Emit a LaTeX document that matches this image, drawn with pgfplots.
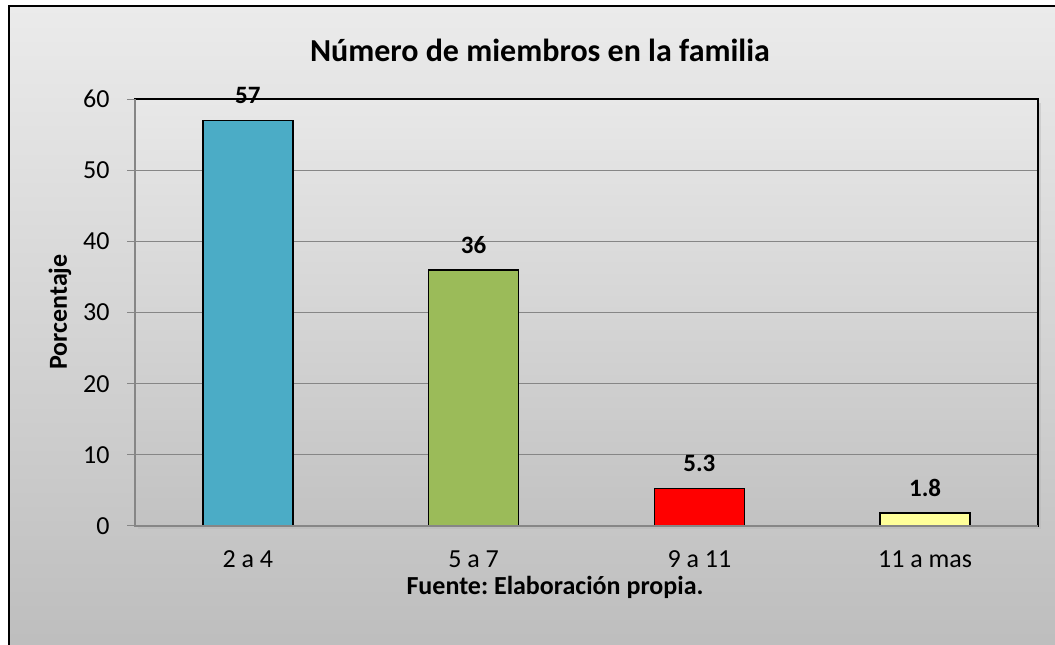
\documentclass[border=0pt]{standalone}
\usepackage{fontspec}
\setmainfont{Carlito}
\usepackage{pgfplots}
\pgfplotsset{compat=1.18}
\frenchspacing
\definecolor{bA}{HTML}{4BACC6}
\definecolor{bB}{HTML}{9BBB59}
\definecolor{bC}{HTML}{FF0000}
\definecolor{bD}{HTML}{FFFF99}
\definecolor{bgtop}{HTML}{EBEBEB}
\definecolor{bgbot}{HTML}{BDBDBD}
\definecolor{pltop}{HTML}{E8E8E8}
\definecolor{plbot}{HTML}{C2C2C2}
\definecolor{gridgray}{HTML}{868686}
\begin{document}
\begin{tikzpicture}[x=1pt,y=1pt]
\useasboundingbox (0,0) rectangle (1055,645);
\shade[top color=bgtop, bottom color=bgbot] (9,-10) rectangle (1075,639);
\draw[black, line width=1.5pt] (9,-10) rectangle (1075,639);
\node[font=\fontsize{32}{38}\selectfont\bfseries] at (540,595) {Número de miembros en la familia};
\node[font=\fontsize{26}{30}\selectfont\bfseries, rotate=90] at (60,333) {Porcentaje};
\node[font=\fontsize{26}{30}\selectfont\bfseries] at (555,58) {Fuente: Elaboración propia.};
\fill[black!30, opacity=0.4] (138,116) rectangle (1041,542);
\begin{axis}[
  at={(135pt,119pt)}, anchor=south west, scale only axis,
  width=903pt, height=427pt,
  xmin=-0.5, xmax=3.5, ymin=0, ymax=60,
  ytick={0,10,...,60}, xtick={0,1,2,3},
  xticklabels={2 a 4, 5 a 7, 9 a 11, 11 a mas},
  ymajorgrids, grid style={color=gridgray, line width=1pt},
  axis background/.style={shade, top color=pltop, bottom color=plbot},
  axis line style={black, line width=1.2pt},
  xtick pos=bottom, ytick pos=left,
  xtick style={draw=none},
  ytick style={draw=gridgray, line width=1pt},
  tick align=outside, major tick length=8pt,
  ticklabel style={font=\fontsize{26}{30}\selectfont},
  yticklabel style={xshift=-14pt},
  xticklabel style={yshift=-13pt},
  /pgf/number format/assume math mode=true,
  ybar, bar width=90pt,
  every axis plot/.append style={bar shift=0pt, draw=black, line width=1.5pt},
  nodes near coords,
  every node near coord/.append style={font=\fontsize{25}{30}\selectfont\bfseries},
  nodes near coords style={anchor=center, yshift=25pt},
  clip=false,
]
\addplot[fill=bA] coordinates {(0,57)};
\addplot[fill=bB] coordinates {(1,36)};
\addplot[fill=bC] coordinates {(2,5.3)};
\addplot[fill=bD] coordinates {(3,1.8)};
\draw[gridgray, line width=1.6pt] (rel axis cs:0,1) -- (rel axis cs:0,0) -- (rel axis cs:1,0);
\end{axis}
\end{tikzpicture}
\end{document}
